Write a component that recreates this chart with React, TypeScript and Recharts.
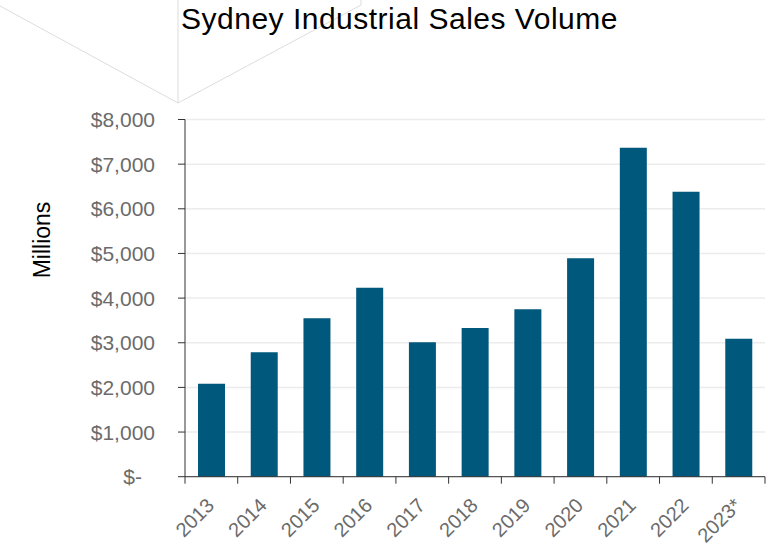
import React from "react";
import { BarChart, Bar, XAxis, YAxis, CartesianGrid } from "recharts";

const years = ["2013", "2014", "2015", "2016", "2017", "2018", "2019", "2020", "2021", "2022", "2023*"];
const salesVolume = [2080, 2790, 3550, 4230, 3010, 3330, 3750, 4890, 7370, 6380, 3090];
const yTicks = [0, 1000, 2000, 3000, 4000, 5000, 6000, 7000, 8000];

// x is a numeric slot axis: category i sits at i + 0.5, slot edges at integers
const xTicks: number[] = [];
for (let i = 0; i <= years.length; i++) {
  xTicks.push(i);
  if (i < years.length) xTicks.push(i + 0.5);
}

const data = years.map((year, i) => ({ year, slot: i + 0.5, value: salesVolume[i] }));

const FONT = '"Liberation Sans", Arial, Helvetica, sans-serif';
const GREY = "#6b6b6b";

const fmt = (v: number) => (v === 0 ? "$-" : "$" + v.toLocaleString("en-US"));

function YTick(props: any) {
  const { x, y, payload } = props;
  const v = payload.value as number;
  return (
    <text
      x={v === 0 ? x - 13 : x}
      y={y}
      dy="0.36em"
      textAnchor="end"
      fill={GREY}
      fontSize={21}
      fontFamily={FONT}
    >
      {fmt(v)}
    </text>
  );
}

function XTick(props: any) {
  const { x, y, payload } = props;
  const v = payload.value as number;
  if (Number.isInteger(v)) {
    return <line x1={x} y1={y} x2={x} y2={y + 7} stroke="#333" />;
  }
  return (
    <g transform={`translate(${x + 4},${y + 30})`}>
      <text transform="rotate(-45)" textAnchor="end" fill={GREY} fontSize={20} fontFamily={FONT}>
        {years[Math.floor(v)]}
      </text>
    </g>
  );
}

export default function App() {
  return (
    <div style={{ position: "absolute", left: 0, top: 0, width: 783, height: 549, background: "#fff" }}>
      <svg width={783} height={549} style={{ position: "absolute", left: 0, top: 0 }}>
        <g stroke="#dcdcdc" strokeWidth={1} fill="none">
          <line x1={0} y1={6} x2={178} y2={103} />
          <line x1={178} y1={0} x2={178} y2={103} />
          <line x1={178} y1={103} x2={361} y2={5} />
          <line x1={361} y1={0} x2={361} y2={5} />
        </g>
      </svg>
      <div style={{ position: "absolute", left: 0, top: 0 }}>
        <BarChart
          width={783}
          height={549}
          data={data}
          margin={{ top: 119.5, right: 18, bottom: 0, left: 0 }}
        >
          <CartesianGrid vertical={false} stroke="#ececec" strokeWidth={1.5} />
          <XAxis
            dataKey="slot"
            type="number"
            scale="linear"
            domain={[0, years.length]}
            allowDataOverflow
            ticks={xTicks}
            interval={0}
            tickLine={false}
            tickSize={0}
            tickMargin={0}
            height={72.3}
            axisLine={{ stroke: "#333" }}
            tick={<XTick />}
          />
          <YAxis
            domain={[0, 8000]}
            ticks={yTicks}
            width={185}
            tickSize={7}
            tickMargin={23}
            axisLine={{ stroke: "#333" }}
            tickLine={{ stroke: "#333" }}
            tick={<YTick />}
          />
          <Bar dataKey="value" fill="#00587c" barSize={27} isAnimationActive={false} />
        </BarChart>
      </div>
      <svg width={783} height={549} style={{ position: "absolute", left: 0, top: 0, pointerEvents: "none" }}>
        <text x={181} y={29} fontSize={30} fontFamily={FONT} fill="#000" letterSpacing={0.5}>
          Sydney Industrial Sales Volume
        </text>
        <text
          transform="translate(50,240) rotate(-90)"
          textAnchor="middle"
          fontSize={23}
          fontFamily={FONT}
          fill="#000"
        >
          Millions
        </text>
      </svg>
    </div>
  );
}
